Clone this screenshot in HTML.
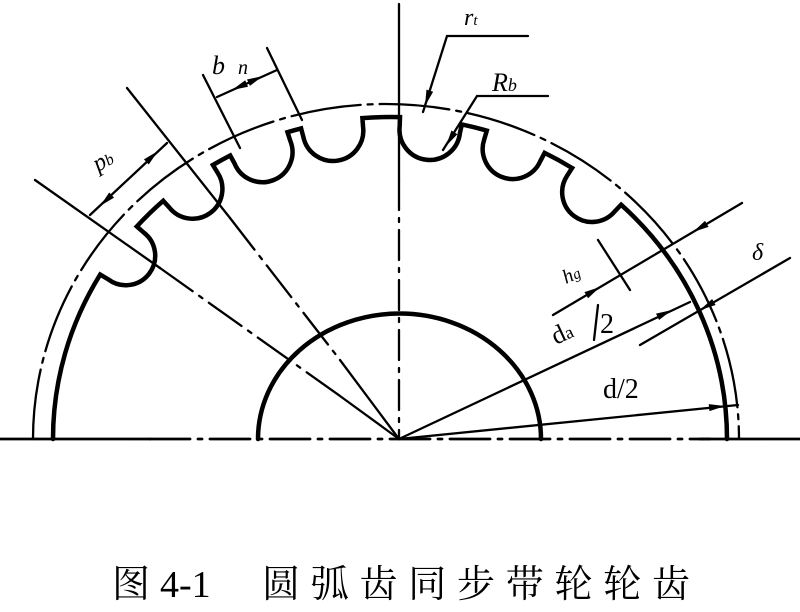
<!DOCTYPE html>
<html><head><meta charset="utf-8">
<style>
html,body{margin:0;padding:0;background:#fff;}
svg{display:block;}
text{font-family:"Liberation Serif","Noto Serif CJK SC",serif;fill:#000;}
</style></head>
<body>
<svg id="s" width="800" height="612" viewBox="0 0 800 612" xmlns="http://www.w3.org/2000/svg">
<g stroke="#000" fill="none" stroke-linecap="round">
<line x1="0" y1="439" x2="150" y2="439" stroke-width="2.8"/>
<line x1="150" y1="439" x2="710" y2="439" stroke-width="2.8" stroke-dasharray="40 8 4 8"/>
<line x1="700" y1="439" x2="800" y2="439" stroke-width="2.8"/>
<line x1="399" y1="4" x2="399" y2="180" stroke-width="2.3"/>
<line x1="399" y1="180" x2="399" y2="439" stroke-width="2.3" stroke-dasharray="30 8 4 8"/>
<path d="M33 439 A353 335 0 0 1 739 439" stroke-width="2.3" stroke-dasharray="70 7 5 7"/>
<path d="M258 439 A141 125 0 0 1 541 439" stroke-width="4.5"/>
<path id="tooth" stroke-width="4.5" stroke-linejoin="miter"/>
<line x1="35" y1="180" x2="160" y2="268" stroke-width="2.3"/>
<line x1="160" y1="268" x2="340" y2="396" stroke-width="2.3" stroke-dasharray="40 8 4 8"/>
<line x1="340" y1="396" x2="399" y2="439" stroke-width="2.3"/>
<line x1="127" y1="88" x2="230" y2="218" stroke-width="2.3"/>
<line x1="230" y1="218" x2="340" y2="360" stroke-width="2.3" stroke-dasharray="40 8 4 8"/>
<line x1="340" y1="360" x2="399" y2="439" stroke-width="2.3"/>
<line x1="203" y1="75" x2="240" y2="148" stroke-width="2.3"/>
<line x1="267" y1="48" x2="302" y2="120" stroke-width="2.3"/>
<line x1="217" y1="97" x2="277" y2="70" stroke-width="2.3"/>
<line x1="90" y1="215" x2="167" y2="143" stroke-width="2.3"/>
<polyline points="423,112 447,36 528,36" stroke-width="2.3"/>
<polyline points="443,150 477,96 548,96" stroke-width="2.3"/>
<line x1="598" y1="240" x2="630" y2="290" stroke-width="2.3"/>
<line x1="553" y1="315" x2="742" y2="203" stroke-width="2.3"/>
<line x1="640" y1="345" x2="790" y2="258" stroke-width="2.3"/>
<line x1="399" y1="439" x2="690" y2="302" stroke-width="2.3"/>
<line x1="594" y1="340" x2="598" y2="305" stroke-width="2.3"/>
<line x1="399" y1="439" x2="738" y2="405" stroke-width="2.3"/>
</g>
<g fill="#000" id="arrows"></g>
<text x="212" y="74" font-size="26" font-style="italic">b</text>
<text x="238" y="74" font-size="20" font-style="italic">n</text>
<text x="0" y="0" font-size="24" font-style="italic" transform="translate(98,172) rotate(-30)">p<tspan font-size="16">b</tspan></text>
<text x="464" y="25" font-size="24" font-style="italic">r<tspan font-size="15">t</tspan></text>
<text x="492" y="91" font-size="26" font-style="italic">R<tspan font-size="18">b</tspan></text>
<text x="0" y="0" font-size="20" font-style="italic" transform="translate(566,284) rotate(-25)">h<tspan font-size="15">g</tspan></text>
<text x="752" y="260" font-size="24" font-style="italic">δ</text>
<text x="0" y="0" font-size="26" transform="translate(556,345) rotate(-25)">d<tspan font-size="18">a</tspan></text>
<text x="600" y="333" font-size="28">2</text>
<text x="603" y="398" font-size="28">d/2</text>
<text x="112" y="597" font-size="38" font-family="'Noto Serif CJK SC',serif">图</text>
<text x="160" y="597" font-size="38">4-1</text>
<text x="262" y="597" font-size="38" font-family="'Noto Serif CJK SC',serif" textLength="428" lengthAdjust="spacing">圆弧齿同步带轮轮齿</text>
</svg>
<script>
(function(){
var cx=390,cy=439,rx=337,ry=322;
function pt(a,d){var t=a*Math.PI/180;return [cx+(rx-d)*Math.cos(t),cy-(ry-d)*Math.sin(t)];}
var gs=[144,127,113,100,83,68,52];
var w=5.3,step=9;
var p=pt(180,0);var d="M"+p[0].toFixed(1)+" "+p[1].toFixed(1);
gs.forEach(function(a){
 var s=pt(a+w,0),s2=pt(a+w,step),e2=pt(a-w,step),e=pt(a-w,0);
 d+=" A"+rx+" "+ry+" 0 0 1 "+s[0].toFixed(1)+" "+s[1].toFixed(1);
 d+=" L"+s2[0].toFixed(1)+" "+s2[1].toFixed(1);
 var ch=Math.hypot(e2[0]-s2[0],e2[1]-s2[1])/2;
 d+=" A"+ch.toFixed(1)+" "+ch.toFixed(1)+" 0 0 0 "+e2[0].toFixed(1)+" "+e2[1].toFixed(1);
 d+=" L"+e[0].toFixed(1)+" "+e[1].toFixed(1);
});
var f=pt(0,0);d+=" A"+rx+" "+ry+" 0 0 1 "+f[0].toFixed(1)+" "+f[1].toFixed(1);
document.getElementById("tooth").setAttribute("d",d);
var ar=document.getElementById("arrows");
function arrow(x,y,tx,ty){var dx=tx-x,dy=ty-y,l=Math.hypot(dx,dy);dx/=l;dy/=l;var L=16,W=3.5;
 var bx=tx-dx*L,by=ty-dy*L;var pg=document.createElementNS("http://www.w3.org/2000/svg","polygon");
 pg.setAttribute("points",tx+","+ty+" "+(bx-dy*W)+","+(by+dx*W)+" "+(bx+dy*W)+","+(by-dx*W));ar.appendChild(pg);}
arrow(277,70,232,90);arrow(217,97,263,76);
arrow(167,143,100,206);arrow(90,215,158,151);
arrow(447,36,425,106);arrow(477,96,446,146);
arrow(553,315,600,287);arrow(742,203,693,232);
arrow(790,258,700,310);
arrow(399,439,672,310);
arrow(399,439,725,406);
})();
</script>
</body></html>
